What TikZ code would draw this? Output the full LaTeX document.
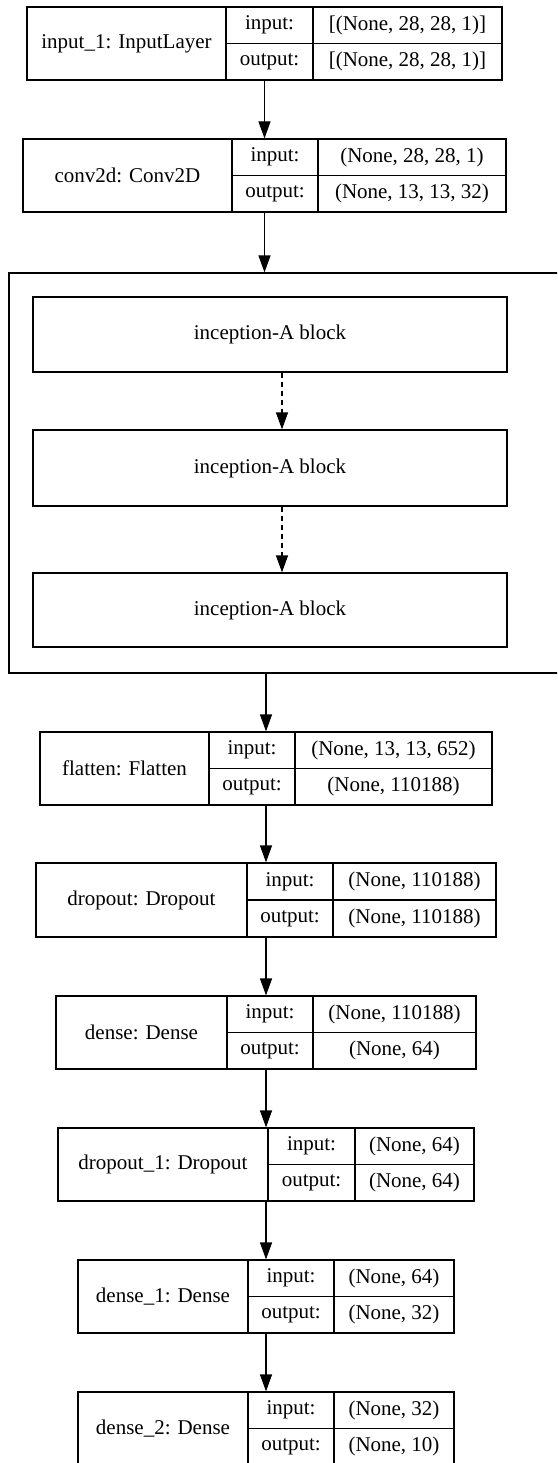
\documentclass[tikz,border=0pt]{standalone}
\usepackage{fontspec}
\setmainfont{Liberation Serif}
\usetikzlibrary{arrows.meta,calc}

\begin{document}
\begin{tikzpicture}[x=1pt,y=-1pt,line width=1.2pt,
	>={Triangle[length=17pt,width=12pt]},
	cell/.style={draw,inner sep=0pt,font=\fontsize{21}{25}\selectfont},
	txt/.style={inner sep=0pt,font=\fontsize{21}{25}\selectfont},
	flow/.style={->},
	dflow/.style={->,dash pattern=on 5pt off 4pt}]
	
	\useasboundingbox (0,0) rectangle (557,1463);
	\clip (0,0) rectangle (557,1463);
	
	% layers: name/left/split1/split2/right/top/bottom/label/input/output
	\foreach \nm/\xl/\xa/\xb/\xr/\yt/\yb/\lab/\vin/\vout in {
		inp/27/226/313/502/7/80/{input\_1: InputLayer}/{[(None, 28, 28, 1)]}/{[(None, 28, 28, 1)]},
		conv/23/232/318/506/139/212/{conv2d: Conv2D}/{(None, 28, 28, 1)}/{(None, 13, 13, 32)},
		flat/40/209/295/492/732/805/{flatten: Flatten}/{(None, 13, 13, 652)}/{(None, 110188)},
		drop/36/247/333/496/863/937/{dropout: Dropout}/{(None, 110188)}/{(None, 110188)},
		dense/56/227/313/476/996/1069/{dense: Dense}/{(None, 110188)}/{(None, 64)},
		dropa/58/268/355/474/1128/1201/{dropout\_1: Dropout}/{(None, 64)}/{(None, 64)},
		densea/78/248/334/454/1260/1333/{dense\_1: Dense}/{(None, 64)}/{(None, 32)},
		denseb/78/248/334/454/1392/1465/{dense\_2: Dense}/{(None, 32)}/{(None, 10)}}{
		\pgfmathsetmacro\ym{(\yt+\yb)/2}
		\node[cell,minimum width=(\xr-\xl)*1pt,minimum height=(\yb-\yt)*1pt] (\nm) at ({(\xl+\xr)/2},\ym) {};
		\node[txt] (\nm-lab) at ({(\xl+\xa)/2},\ym) {\lab};
		\node[cell,minimum width=(\xb-\xa)*1pt,minimum height=(\ym-\yt)*1pt] (\nm-ki) at ({(\xa+\xb)/2},{(\yt+\ym)/2}) {input:};
		\node[cell,minimum width=(\xb-\xa)*1pt,minimum height=(\yb-\ym)*1pt] (\nm-ko) at ({(\xa+\xb)/2},{(\ym+\yb)/2}) {output:};
		\node[cell,minimum width=(\xr-\xb)*1pt,minimum height=(\ym-\yt)*1pt] (\nm-vi) at ({(\xb+\xr)/2},{(\yt+\ym)/2}) {\vin};
		\node[cell,minimum width=(\xr-\xb)*1pt,minimum height=(\yb-\ym)*1pt] (\nm-vo) at ({(\xb+\xr)/2},{(\ym+\yb)/2}) {\vout};
	}
	
	% inception cluster
	\node[draw,minimum width=561pt,minimum height=400pt] (clu) at (289.5,473) {};
	\node[cell,minimum width=474pt,minimum height=75pt] (blka) at (270,334.5) {inception-A block};
	\node[cell,minimum width=474pt,minimum height=76pt] (blkb) at (270,468) {inception-A block};
	\node[cell,minimum width=474pt,minimum height=74pt] (blkc) at (270,610) {inception-A block};
	
	\draw[flow] (inp.south) -- (conv.north);
	\draw[flow] (conv.south) -- (conv.south |- clu.north);
	\draw[dflow] ([xshift=12pt]blka.south) -- ([xshift=12pt]blkb.north);
	\draw[dflow] ([xshift=12pt]blkb.south) -- ([xshift=12pt]blkc.north);
	\draw[flow] (flat.north |- clu.south) -- (flat.north);
	\draw[flow] (flat.south) -- (drop.north);
	\draw[flow] (drop.south) -- (dense.north);
	\draw[flow] (dense.south) -- (dropa.north);
	\draw[flow] (dropa.south) -- (densea.north);
	\draw[flow] (densea.south) -- (denseb.north);
\end{tikzpicture}
\end{document}
